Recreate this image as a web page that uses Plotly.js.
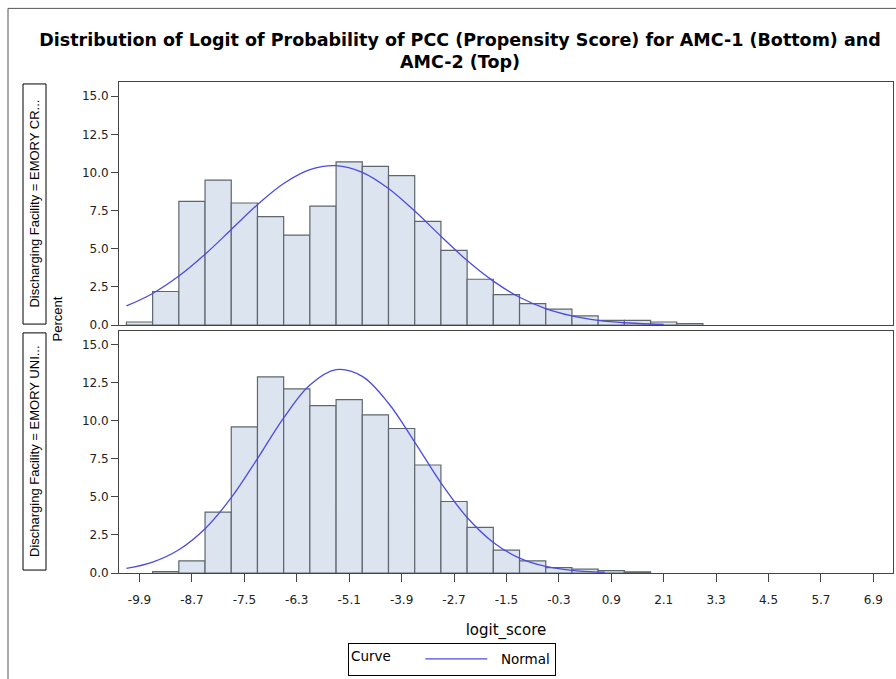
<!DOCTYPE html>
<html>
<head>
<meta charset="utf-8">
<script src="https://cdn.plot.ly/plotly-3.0.1.min.js"></script>
<style>html,body{margin:0;padding:0;background:#fff;}#chart{width:896px;height:679px;}</style>
</head>
<body>
<div id="chart"></div>
<script>
// Histogram bin centres (logit_score), bin width 0.6
var binCenters = [-9.9, -9.3, -8.7, -8.1, -7.5, -6.9, -6.3, -5.7, -5.1, -4.5, -3.9, -3.3, -2.7, -2.1, -1.5, -0.9, -0.3, 0.3, 0.9, 1.5, 2.1, 2.7];
// Percent per bin, AMC-2 (top panel, EMORY CR...)
var topPercent = [0.2, 2.2, 8.1, 9.5, 8.0, 7.1, 5.9, 7.8, 10.7, 10.4, 9.8, 6.8, 4.9, 3.0, 2.0, 1.4, 1.05, 0.6, 0.3, 0.3, 0.2, 0.1];
// Percent per bin, AMC-1 (bottom panel, EMORY UNI...)
var bottomPercent = [null, 0.1, 0.8, 4.0, 9.6, 12.9, 12.1, 11.0, 11.4, 10.4, 9.5, 7.1, 4.7, 3.0, 1.5, 0.8, 0.35, 0.25, 0.15, 0.08, null, null];

// Normal curve points
var topCurveX = [-10.2, -9.6, -9.0, -8.4, -7.8, -7.2, -6.6, -6.0, -5.4, -4.8, -4.2, -3.6, -3.0, -2.4, -1.8, -1.2, -0.6, 0.0, 0.6, 1.2, 1.8, 2.1];
var topCurveY = [1.25, 2.07, 3.21, 4.64, 6.26, 7.89, 9.28, 10.19, 10.45, 10.01, 8.95, 7.47, 5.82, 4.23, 2.88, 1.82, 1.08, 0.60, 0.31, 0.15, 0.07, 0.05];
var bottomCurveX = [-10.2, -9.6, -9.0, -8.4, -7.8, -7.2, -6.6, -6.0, -5.4, -4.8, -4.2, -3.6, -3.0, -2.4, -1.8, -1.2, -0.6, 0.0, 0.6, 0.75];
var bottomCurveY = [0.30, 0.72, 1.53, 2.91, 4.95, 7.52, 10.20, 12.36, 13.37, 12.93, 11.16, 8.61, 5.93, 3.65, 2.01, 0.98, 0.43, 0.17, 0.06, 0.05];

// Axis tick labels
var xTickVals = [-9.9, -8.7, -7.5, -6.3, -5.1, -3.9, -2.7, -1.5, -0.3, 0.9, 2.1, 3.3, 4.5, 5.7, 6.9];
var xTickText = ["-9.9", "-8.7", "-7.5", "-6.3", "-5.1", "-3.9", "-2.7", "-1.5", "-0.3", "0.9", "2.1", "3.3", "4.5", "5.7", "6.9"];

var titleLine1 = "Distribution of Logit of Probability of PCC (Propensity Score) for AMC-1 (Bottom) and";
var titleLine2 = "AMC-2 (Top)";
var stripTop = "Discharging Facility = EMORY CR...";
var stripBottom = "Discharging Facility = EMORY UNI...";

var FONT = "Liberation Sans, Arial, Helvetica, sans-serif";
var WIDE = "DejaVu Sans, Verdana, sans-serif";
var barFill = "#dce4f0";
var barLine = "#5f666d";
var curveColor = "#4b4be0";

var traces = [
  {type: "bar", x: binCenters, y: topPercent, width: 0.6, xaxis: "x2", yaxis: "y2",
   marker: {color: barFill, line: {color: barLine, width: 1.2}}, showlegend: false, hoverinfo: "skip"},
  {type: "bar", x: binCenters, y: bottomPercent, width: 0.6, xaxis: "x", yaxis: "y",
   marker: {color: barFill, line: {color: barLine, width: 1.2}}, showlegend: false, hoverinfo: "skip"},
  {type: "scatter", mode: "lines", x: topCurveX, y: topCurveY, xaxis: "x2", yaxis: "y2",
   line: {color: curveColor, width: 1.3, shape: "spline"}, name: "\u00a0\u00a0Normal", showlegend: true},
  {type: "scatter", mode: "lines", x: bottomCurveX, y: bottomCurveY, xaxis: "x", yaxis: "y",
   line: {color: curveColor, width: 1.3, shape: "spline"}, name: "Normal", showlegend: false}
];

var axisLine = "#444";
var yCommon = {
  range: [0, 15.93], dtick: 2.5, tick0: 0, tickformat: ".1f", ticks: "outside", ticklen: 7,
  tickcolor: axisLine, showline: true, linecolor: axisLine, linewidth: 1, mirror: true,
  showgrid: false, zeroline: false, tickfont: {family: WIDE, size: 12, color: "#222"}, fixedrange: true
};

var layout = {
  width: 896, height: 679,
  margin: {l: 119, r: 3, t: 82, b: 106},
  paper_bgcolor: "#fff", plot_bgcolor: "#fff",
  font: {family: FONT, color: "#000"},
  bargap: 0,
  barmode: "overlay",
  title: {text: "<b>" + titleLine1 + "<br>" + titleLine2 + "</b>", font: {family: WIDE, size: 17.5, color: "#000"},
          x: 460/896, xanchor: "center", xref: "container", y: 1 - 45.5/679, yanchor: "middle", yref: "container"},
  xaxis: {
    anchor: "y", range: [-10.37, 7.35], tickvals: xTickVals, ticktext: xTickText,
    ticks: "outside", ticklen: 8, tickcolor: axisLine, showline: true, linecolor: axisLine, linewidth: 1, mirror: true,
    showgrid: false, zeroline: false, tickfont: {family: WIDE, size: 12, color: "#222"}, ticklabelstandoff: 8,
    automargin: false,
    title: {text: "logit_score", font: {family: WIDE, size: 15, color: "#000"}, standoff: 18}
  },
  xaxis2: {
    anchor: "y2", matches: "x", range: [-10.37, 7.35], showticklabels: false, ticks: "",
    showline: true, linecolor: axisLine, linewidth: 1, mirror: true, showgrid: false, zeroline: false
  },
  yaxis: Object.assign({}, yCommon, {domain: [0, 0.4935], anchor: "x"}),
  yaxis2: Object.assign({}, yCommon, {domain: [0.505, 1], anchor: "x2"}),
  legend: {
    orientation: "h", xref: "container", yref: "container", x: 348 / 896, xanchor: "left", y: 1 - 659 / 679, yanchor: "middle",
    bordercolor: "#000", borderwidth: 1, bgcolor: "#fff", itemwidth: 62, valign: "middle",
    title: {text: "Curve\u00a0\u00a0\u00a0\u00a0\u00a0", side: "left", font: {family: WIDE, size: 13.5, color: "#000"}},
    font: {family: WIDE, size: 13.5, color: "#000"}
  },
  shapes: [
    // outer graph frame
    {type: "rect", xref: "paper", yref: "paper", x0: (8 - 119) / 774, x1: 1.2, y0: -0.3, y1: (573.3 - 8) / 491.6,
     line: {color: "#555", width: 1}, fillcolor: "rgba(0,0,0,0)", layer: "below"},
    // strip label boxes
    {type: "rect", xref: "paper", yref: "paper", x0: (23 - 119) / 774, x1: (46 - 119) / 774, y0: 0.507, y1: 0.996,
     line: {color: "#000", width: 1}, fillcolor: "#fff"},
    {type: "rect", xref: "paper", yref: "paper", x0: (23 - 119) / 774, x1: (46 - 119) / 774, y0: 0.006, y1: 0.489,
     line: {color: "#000", width: 1}, fillcolor: "#fff"}
  ],
  annotations: [
    {text: stripTop, xref: "paper", yref: "paper", x: (34.5 - 119) / 774, y: 0.7515, textangle: -90,
     showarrow: false, font: {family: FONT, size: 13, color: "#000"}, xanchor: "center", yanchor: "middle"},
    {text: stripBottom, xref: "paper", yref: "paper", x: (34.5 - 119) / 774, y: 0.2475, textangle: -90,
     showarrow: false, font: {family: FONT, size: 13, color: "#000"}, xanchor: "center", yanchor: "middle"},
    {text: "Percent", xref: "paper", yref: "paper", x: (57.5 - 119) / 774, y: (573.3 - 319) / 491.6, textangle: -90,
     showarrow: false, font: {family: FONT, size: 13, color: "#000"}, xanchor: "center", yanchor: "middle"}
  ]
};

Plotly.newPlot("chart", traces, layout, {displayModeBar: false, staticPlot: true});
</script>
</body>
</html>
